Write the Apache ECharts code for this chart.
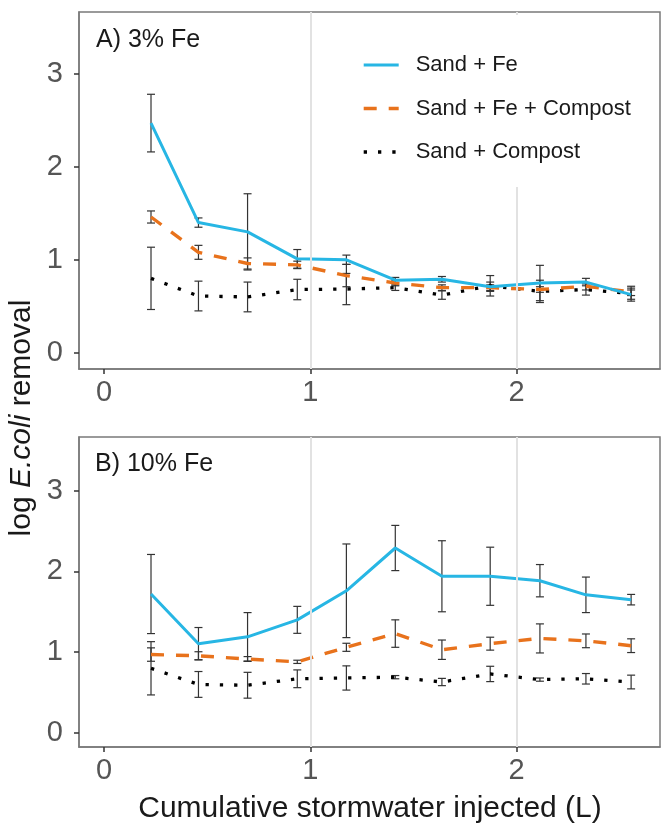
<!DOCTYPE html>
<html><head><meta charset="utf-8">
<script src="https://cdn.jsdelivr.net/npm/echarts@6/dist/echarts.min.js"></script>
<style>html,body{margin:0;padding:0;background:#fff}#c{width:661px;height:826px}</style>
</head><body><div id="c"></div>
<script>
// ---------------- data ----------------
const xVals = [0.228, 0.458, 0.696, 0.937, 1.175, 1.412, 1.638, 1.872, 2.113, 2.336, 2.555];
const seriesNames = ['Sand + Fe', 'Sand + Fe + Compost', 'Sand + Compost'];
// Panel A (3% Fe)
const aFe        = [2.47, 1.40, 1.30, 1.01, 1.00, 0.78, 0.79, 0.71, 0.75, 0.76, 0.625];
const aFeErr     = [0.31, 0.05, 0.41, 0.10, 0.05, 0.03, 0.03, 0.05, 0.19, 0.04, 0.05];
const aFeComp    = [1.46, 1.08, 0.96, 0.945, 0.83, 0.75, 0.70, 0.70, 0.68, 0.715, 0.655];
const aFeCompErr = [0.065, 0.075, 0.06, 0.04, 0.12, 0.03, 0.03, 0.03, 0.03, 0.04, 0.04];
const aComp      = [0.80, 0.61, 0.60, 0.68, 0.685, 0.70, 0.62, 0.72, 0.66, 0.68, 0.635];
const aCompErr   = [0.335, 0.16, 0.16, 0.11, 0.168, 0.03, 0.045, 0.11, 0.12, 0.06, 0.08];
// Panel B (10% Fe)
const bFe        = [1.72, 1.105, 1.19, 1.40, 1.76, 2.29, 1.94, 1.94, 1.885, 1.71, 1.65];
const bFeErr     = [0.49, 0.20, 0.30, 0.167, 0.58, 0.28, 0.44, 0.36, 0.20, 0.22, 0.065];
const bFeComp    = [0.97, 0.955, 0.915, 0.88, 1.06, 1.23, 1.03, 1.105, 1.17, 1.14, 1.08];
const bFeCompErr = [0.083, 0.05, 0.03, 0.02, 0.05, 0.17, 0.12, 0.08, 0.18, 0.085, 0.085];
const bComp      = [0.80, 0.60, 0.59, 0.67, 0.68, 0.69, 0.63, 0.73, 0.66, 0.67, 0.63];
const bCompErr   = [0.33, 0.16, 0.16, 0.11, 0.15, 0.02, 0.045, 0.095, 0.02, 0.065, 0.085];
const xTicks = [0, 1, 2];
const yTicks = [0, 1, 2, 3];
const dividers = [1, 2];
const pLabelX = [0.5, 1.5, 2.35];
const pLabelsA = ['p < 0.05', 'p > 0.05', 'p > 0.05'];
const pLabelsB = ['p < 0.05', 'p < 0.0001', 'p < 0.001'];
const pLabelY = 0.085;
const panelTitles = ['A) 3% Fe', 'B) 10% Fe'];
const xTitle = 'Cumulative stormwater injected (L)';

// ---------------- chart ----------------
const FONT = '"Liberation Sans", Arial, Helvetica, sans-serif';
const colors = ['#27B6E4', '#E8721C', '#000000'];
const lineStyles = [
  {width: 3, type: 'solid'},
  {width: 3.4, type: [13, 12]},
  {width: 3.3, type: [3.3, 11]}
];
const panels = [
  {vals: [aFe, aFeComp, aComp], errs: [aFeErr, aFeCompErr, aCompErr], p: pLabelsA},
  {vals: [bFe, bFeComp, bComp], errs: [bFeErr, bFeCompErr, bCompErr], p: pLabelsB}
];
const grids = [
  {left: 79, top: 12, width: 581, height: 357},
  {left: 79, top: 437, width: 581, height: 310}
];

const xAxes = [], yAxes = [], series = [];
grids.forEach((g, gi) => {
  xAxes.push({
    type: 'value', gridIndex: gi, min: -0.121, max: 2.695,
    splitLine: {show: false},
    axisLine: {show: true, onZero: false, lineStyle: {color: '#7a7a7a', width: 1.5}},
    axisTick: {show: true, customValues: xTicks, length: 5, lineStyle: {color: '#333', width: 1.5}},
    axisLabel: {customValues: xTicks, fontSize: 29, color: '#555', margin: 9, fontFamily: FONT}
  });
  yAxes.push({
    type: 'value', gridIndex: gi, min: -0.175, max: 3.665,
    splitLine: {show: false},
    axisLine: {show: true, onZero: false, lineStyle: {color: '#7a7a7a', width: 1.5}},
    axisTick: {show: true, customValues: yTicks, length: 5, lineStyle: {color: '#333', width: 1.5}},
    axisLabel: {customValues: yTicks, fontSize: 29, color: '#555', margin: 16, fontFamily: FONT}
  });
  // divider lines
  series.push({
    type: 'line', name: 'div' + gi, xAxisIndex: gi, yAxisIndex: gi, data: [], z: 1, silent: true,
    markLine: {silent: true, symbol: ['none', 'none'], label: {show: false}, animation: false,
      lineStyle: {color: '#e2e2e2', width: 2, type: 'solid'},
      data: dividers.map(d => ({xAxis: d}))}
  });
  const P = panels[gi];
  // error bars
  [2, 1, 0].forEach(si => {
    series.push({
      type: 'custom', name: 'err' + gi + si, xAxisIndex: gi, yAxisIndex: gi, z: 2, silent: true,
      data: xVals.map((x, i) => [x, P.vals[si][i] - P.errs[si][i], P.vals[si][i] + P.errs[si][i]]),
      encode: {x: 0, y: [1, 2]},
      renderItem: (params, api) => {
        const x = api.value(0);
        const lo = api.coord([x, api.value(1)]);
        const hi = api.coord([x, api.value(2)]);
        const w = 4;
        const st = {stroke: '#333', lineWidth: 1.2};
        return {type: 'group', children: [
          {type: 'line', shape: {x1: lo[0], y1: lo[1], x2: hi[0], y2: hi[1]}, style: st},
          {type: 'line', shape: {x1: lo[0] - w, y1: lo[1], x2: lo[0] + w, y2: lo[1]}, style: st},
          {type: 'line', shape: {x1: hi[0] - w, y1: hi[1], x2: hi[0] + w, y2: hi[1]}, style: st}
        ]};
      }
    });
  });
  // lines
  [2, 1, 0].forEach(si => {
    series.push({
      type: 'line', name: seriesNames[si], xAxisIndex: gi, yAxisIndex: gi, z: 3,
      symbol: 'none', showSymbol: false,
      data: xVals.map((x, i) => [x, P.vals[si][i]]),
      color: colors[si],
      lineStyle: {color: colors[si], width: lineStyles[si].width, type: lineStyles[si].type, cap: 'butt'}
    });
  });
  // p-value labels
  series.push({
    type: 'scatter', name: 'p' + gi, xAxisIndex: gi, yAxisIndex: gi, z: 4, silent: true,
    symbolSize: 1, itemStyle: {opacity: 0},
    data: pLabelX.map((x, i) => [x, pLabelY, P.p[i]]),
    label: {show: true, position: 'inside', formatter: p => p.data[2],
      fontSize: 20, fontWeight: 'bold', color: '#000', fontFamily: FONT}
  });
});

const chart = echarts.init(document.getElementById('c'), null, {renderer: 'canvas'});
chart.setOption({
  animation: false,
  backgroundColor: '#fff',
  grid: grids.map(g => Object.assign({show: true, borderColor: '#7a7a7a', borderWidth: 1.5, backgroundColor: 'transparent'}, g)),
  xAxis: xAxes,
  yAxis: yAxes,
  legend: {
    data: seriesNames.map((n, i) => ({name: n, lineStyle: {width: lineStyles[i].width, type: lineStyles[i].type, color: colors[i]}})),
    orient: 'vertical', left: 327, top: 15, z: 10,
    padding: [39, 25, 24, 35], backgroundColor: '#fff',
    itemWidth: 35, itemHeight: 22, itemGap: 21.5,
    itemStyle: {opacity: 0, borderWidth: 0},
    textStyle: {fontSize: 22, color: '#1a1a1a', fontFamily: FONT, lineHeight: 22, padding: [0, 0, 0, 12]},
    selectedMode: false
  },
  graphic: [
    {type: 'text', left: 96, top: 28, style: {text: panelTitles[0], font: '25px ' + FONT, fill: '#1a1a1a'}},
    {type: 'text', left: 95, top: 452, style: {text: panelTitles[1], font: '25px ' + FONT, fill: '#1a1a1a'}},
    {type: 'text', x: 370, y: 809, style: {text: xTitle, font: '30px ' + FONT, fill: '#1a1a1a', align: 'center', verticalAlign: 'middle'}},
    {type: 'text', x: 22, y: 418, rotation: Math.PI / 2,
      style: {text: '{n|log }{i|E.coli}{n| removal}', align: 'center', verticalAlign: 'middle', fill: '#1a1a1a',
        rich: {n: {fontSize: 30, fontFamily: FONT, fill: '#1a1a1a'}, i: {fontSize: 30, fontFamily: FONT, fontStyle: 'italic', fill: '#1a1a1a'}}}}
  ],
  series: series
});
</script>
</body></html>
